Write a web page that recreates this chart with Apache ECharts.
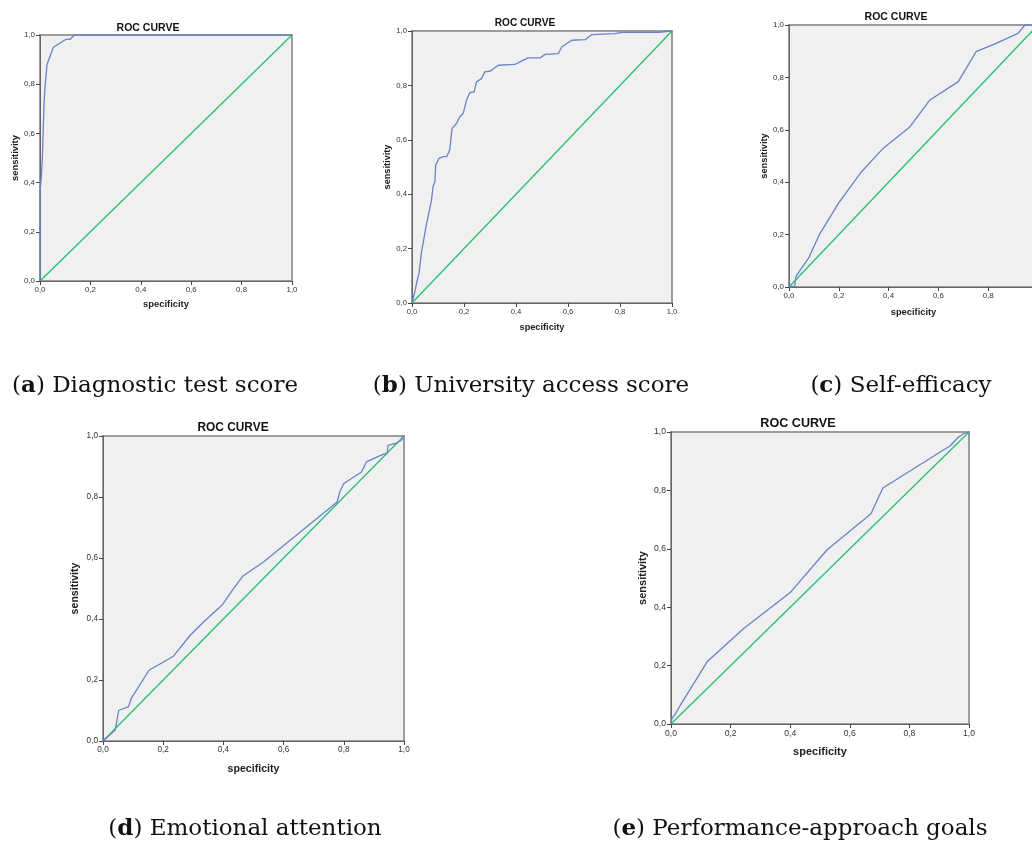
<!DOCTYPE html>
<html>
<head>
<meta charset="utf-8">
<script src="https://cdn.jsdelivr.net/npm/echarts@6/dist/echarts.min.js"></script>
<style>
  html, body { margin: 0; padding: 0; background: #fff; }
  #chart { width: 1032px; height: 843px; }
</style>
</head>
<body>
<div id="chart"></div>
<script>
// ROC points as [1 - specificity, sensitivity]
const rocDiagnostic = [
  [0, 0], [0, 0.36], [0.005, 0.42], [0.009, 0.49], [0.013, 0.62], [0.016, 0.72],
  [0.02, 0.79], [0.028, 0.88], [0.053, 0.95], [0.102, 0.982], [0.119, 0.982],
  [0.136, 1], [1, 1]
]
const rocUniversity = [
  [0, 0], [0.002, 0.006], [0.01, 0.037], [0.019, 0.079], [0.027, 0.11], [0.036, 0.183],
  [0.045, 0.232], [0.055, 0.287], [0.066, 0.336], [0.075, 0.379], [0.081, 0.428],
  [0.088, 0.446], [0.091, 0.507], [0.104, 0.532], [0.12, 0.538], [0.133, 0.538],
  [0.145, 0.562], [0.154, 0.642], [0.171, 0.66], [0.184, 0.685], [0.197, 0.697],
  [0.21, 0.746], [0.222, 0.773], [0.239, 0.776], [0.248, 0.813], [0.267, 0.825],
  [0.28, 0.85], [0.3, 0.852], [0.332, 0.874], [0.396, 0.877], [0.422, 0.89],
  [0.447, 0.901], [0.492, 0.901], [0.512, 0.914], [0.563, 0.917], [0.576, 0.941],
  [0.614, 0.966], [0.666, 0.968], [0.692, 0.987], [0.781, 0.99], [0.807, 0.995],
  [0.949, 0.995], [0.955, 1], [1, 1]
]
const rocSelfEfficacy = [
  [0, 0], [0.023, 0.003], [0.028, 0.041], [0.079, 0.111], [0.122, 0.2], [0.199, 0.32],
  [0.292, 0.441], [0.379, 0.53], [0.486, 0.612], [0.566, 0.714], [0.68, 0.784],
  [0.751, 0.898], [0.827, 0.928], [0.92, 0.968], [0.947, 1], [1, 1]
]
const rocEmotional = [
  [0, 0], [0.04, 0.035], [0.045, 0.06], [0.052, 0.1], [0.085, 0.113], [0.094, 0.14],
  [0.153, 0.232], [0.234, 0.278], [0.289, 0.346], [0.334, 0.39], [0.395, 0.445],
  [0.433, 0.499], [0.464, 0.54], [0.533, 0.587], [0.778, 0.784], [0.787, 0.818],
  [0.8, 0.844], [0.859, 0.882], [0.875, 0.915], [0.93, 0.94], [0.944, 0.944],
  [0.947, 0.969], [0.975, 0.977], [0.991, 0.986], [1, 1]
]
const rocPerformance = [
  [0, 0], [0.003, 0.018], [0.015, 0.035], [0.031, 0.064], [0.121, 0.213], [0.244, 0.327],
  [0.4, 0.45], [0.523, 0.596], [0.671, 0.72], [0.711, 0.808], [0.937, 0.953],
  [0.965, 0.983], [0.982, 0.994], [1, 1]
]
const reference = [[0, 0], [1, 1]]

const curves = [rocDiagnostic, rocUniversity, rocSelfEfficacy, rocEmotional, rocPerformance]
const letters = ["a", "b", "c", "d", "e"]
const captionTexts = [
  "Diagnostic test score",
  "University access score",
  "Self-efficacy",
  "Emotional attention",
  "Performance-approach goals"
]
const chartTitle = "ROC CURVE"
const xName = "specificity"
const yName = "sensitivity"

// layout of each small plot (pixels)
const panels = [
  { left: 40, top: 35, width: 252, height: 246, tx: 148, ty: 28, cx: 155, cy: 386, tf: 10.5, nf: 9.4, lf: 7.9, ng: 19, yg: 20 },
  { left: 412, top: 31, width: 260, height: 272, tx: 525, ty: 23, cx: 531, cy: 386, tf: 10.1, nf: 9.2, lf: 7.7, ng: 20, yg: 19 },
  { left: 789, top: 25, width: 249, height: 262, tx: 896, ty: 17, cx: 901, cy: 386, tf: 10.5, nf: 9.3, lf: 7.9, ng: 21, yg: 20 },
  { left: 103, top: 436, width: 301, height: 305, tx: 233, ty: 428, cx: 245, cy: 829, tf: 11.9, nf: 10.6, lf: 8.2, ng: 23, yg: 22 },
  { left: 671, top: 432, width: 298, height: 292, tx: 798, ty: 424, cx: 800, cy: 829, tf: 12.6, nf: 11, lf: 8.6, ng: 22, yg: 23 }
]

const sans = "'Liberation Sans', Arial, sans-serif"
const serif = "'DejaVu Serif', 'Liberation Serif', serif"
const capSize = 23
const fmt = (v) => v.toFixed(1).replace(".", ",")

let grid = []
let xAxis = []
let yAxis = []
let series = []
let graphic = []

panels.forEach((p, i) => {
  grid.push({
    left: p.left, top: p.top, width: p.width, height: p.height,
    outerBoundsMode: "none", containLabel: false,
    show: true, backgroundColor: "#f0f0f0", borderColor: "#9c9c9c", borderWidth: 2
  })
  const axisBase = (fs, gap) => ({
    type: "value", min: 0, max: 1, interval: 0.2, gridIndex: i,
    nameLocation: "middle", nameGap: gap,
    nameTextStyle: { fontFamily: sans, fontWeight: "bold", fontSize: p.nf, color: "#222" },
    axisLine: { show: true, onZero: false, lineStyle: { color: "#666", width: 1 } },
    axisTick: { show: true, inside: false, length: 4, lineStyle: { color: "#444" } },
    axisLabel: { fontFamily: sans, fontSize: fs, color: "#333", margin: 5, formatter: fmt },
    splitLine: { show: false }
  })
  xAxis.push(Object.assign(axisBase(p.lf, p.ng), { name: xName }))
  yAxis.push(Object.assign(axisBase(p.lf, p.yg), { name: yName }))

  series.push({
    type: "line", xAxisIndex: i, yAxisIndex: i, data: reference,
    showSymbol: false, silent: true, lineStyle: { color: "#25c171", width: 1.3 }
  })
  series.push({
    type: "line", xAxisIndex: i, yAxisIndex: i, data: curves[i],
    showSymbol: false, silent: true, lineStyle: { color: "#6a83c8", width: 1.3 }
  })

  graphic.push({
    type: "text", x: p.tx, y: p.ty,
    style: {
      text: chartTitle, fontFamily: sans, fontWeight: "bold", fontSize: p.tf,
      fill: "#111", align: "center", verticalAlign: "middle"
    }
  })
  graphic.push({
    type: "text", x: p.cx, y: p.cy,
    style: {
      text: "({b|" + letters[i] + "}) " + captionTexts[i],
      fontFamily: serif, fontSize: capSize, fill: "#111",
      align: "center", verticalAlign: "middle",
      rich: { b: { fontFamily: serif, fontSize: capSize, fontWeight: "bold", fill: "#111" } }
    }
  })
})

let option = {
  animation: false,
  backgroundColor: "#fff",
  grid,
  xAxis,
  yAxis,
  series,
  graphic
}

const myChart = echarts.init(document.getElementById("chart"))
myChart.setOption(option)
window.addEventListener("resize", function () {
  myChart.resize()
})
</script>
</body>
</html>
